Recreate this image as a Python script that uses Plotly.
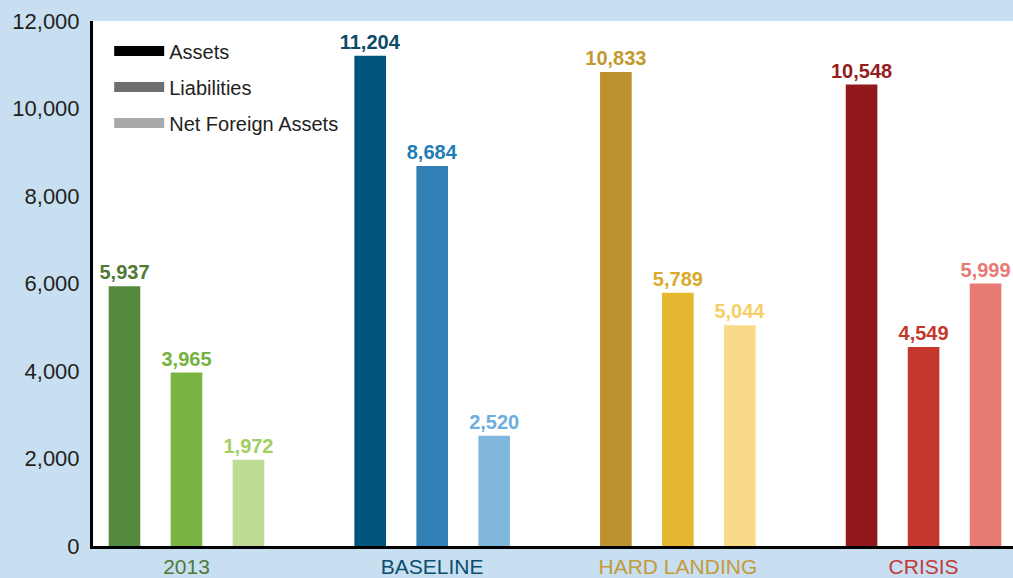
import plotly.graph_objects as go

# Categories and series values
categories = ["2013", "BASELINE", "HARD LANDING", "CRISIS"]
assets = [5937, 11204, 10833, 10548]
liabilities = [3965, 8684, 5789, 4549]
net_foreign_assets = [1972, 2520, 5044, 5999]

# colours per scenario (dark, mid, light)
assets_colors = ["#548A3D", "#00567A", "#BD912D", "#91191C"]
liab_colors = ["#7AB442", "#317FB4", "#E6B730", "#C4372C"]
nfa_colors = ["#BEDB93", "#82B7DD", "#F9DA88", "#E77A72"]
assets_text = ["#4E7A36", "#0D4A69", "#C49A30", "#961C20"]
liab_text = ["#76B240", "#1F7DB5", "#D9A82C", "#C4372C"]
nfa_text = ["#A2CE62", "#6DAEDC", "#F5CE65", "#E77A72"]
label_colors = ["#4E7A3A", "#0B4E6E", "#C49A3A", "#C43A3A"]

legend_names = ["Assets", "Liabilities", "Net Foreign Assets"]
legend_colors = ["#000000", "#6D6E70", "#A8A9AB"]

FONT = "Liberation Sans"

fig = go.Figure()

series = [
    (assets, assets_colors, assets_text),
    (liabilities, liab_colors, liab_text),
    (net_foreign_assets, nfa_colors, nfa_text),
]
for name, (vals, cols, tcols) in zip(legend_names, series):
    fig.add_trace(go.Bar(
        x=categories,
        y=vals,
        name=name,
        marker=dict(color=cols, line=dict(width=0)),
        text=[f"{v:,}" for v in vals],
        textposition="outside",
        constraintext="none",
        textfont=dict(family=FONT, size=20, color=tcols, weight="bold"),
        cliponaxis=False,
        showlegend=False,
    ))

# legend swatches (wide rectangles)
for name, col in zip(legend_names, legend_colors):
    fig.add_trace(go.Scatter(
        x=[None], y=[None], mode="lines", name=name,
        legendgroup=name,
        line=dict(color=col, width=13),
    ))

ticktext = [f'<span style="color:{c}">{t}</span>' for t, c in zip(categories, label_colors)]

fig.update_layout(
    width=1013,
    height=578,
    margin=dict(l=93, r=0, t=21, b=32),
    paper_bgcolor="#C7DFF0",
    plot_bgcolor="#FFFFFF",
    barmode="group",
    bargap=0.243,
    bargroupgap=0.49,
    font=dict(family=FONT, size=21, color="#231F20"),
    legend=dict(
        x=0.0176, y=0.98, xanchor="left", yanchor="top",
        bgcolor="rgba(0,0,0,0)",
        font=dict(family=FONT, size=20, color="#231F20"),
        itemwidth=50,
        tracegroupgap=7,
    ),
)

fig.update_xaxes(
    type="category",
    range=[-0.3805, 3.364],
    tickvals=categories,
    ticktext=ticktext,
    tickfont=dict(family=FONT, size=21),
    showline=True, linecolor="#000000", linewidth=3,
    ticks="", showgrid=False,
)
fig.update_yaxes(
    range=[0, 12000],
    tickvals=[0, 2000, 4000, 6000, 8000, 10000, 12000],
    tickformat=",d",
    tickfont=dict(family=FONT, size=22, color="#231F20"),
    showline=True, linecolor="#000000", linewidth=3,
    showgrid=False, zeroline=False,
    ticks="", ticklabelstandoff=6,
)

fig.write_html(
    "out.html",
    config={"displayModeBar": False},
    post_script="document.body.style.margin='0';",
)
